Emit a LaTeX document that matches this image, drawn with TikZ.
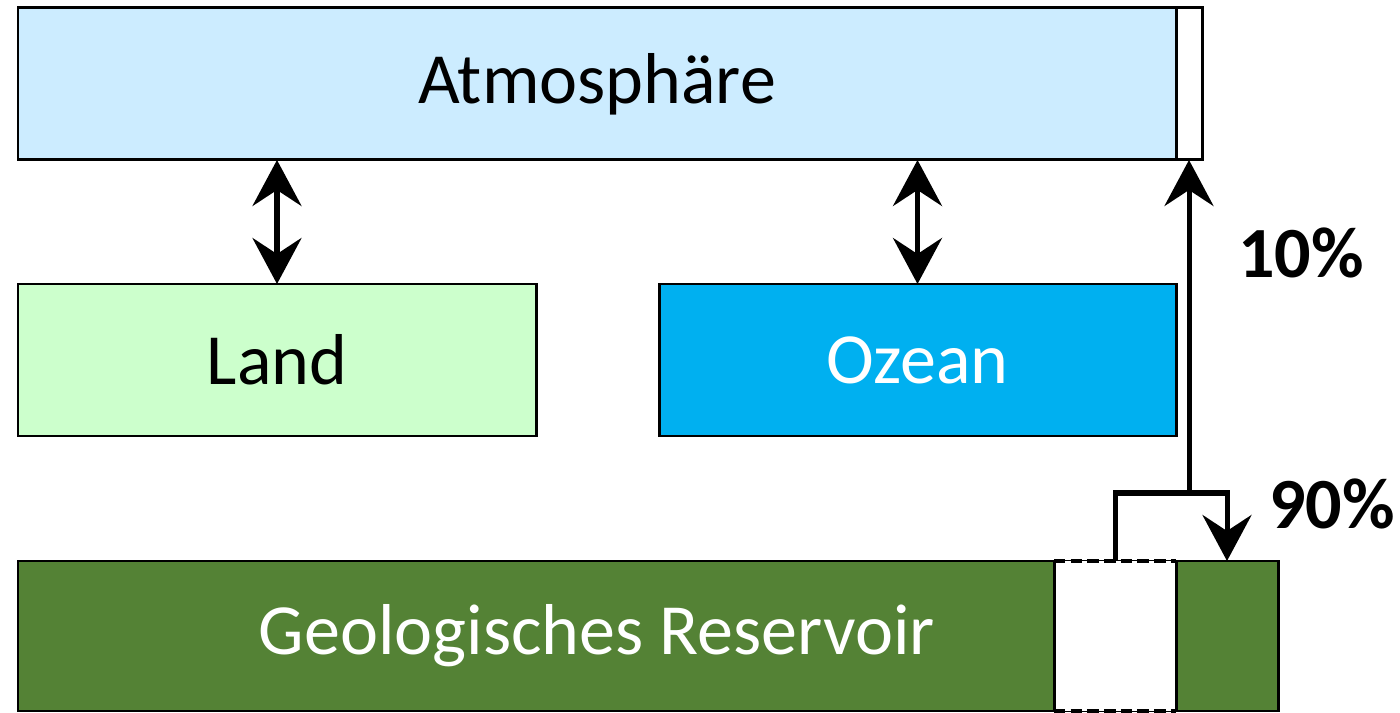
\documentclass[tikz,border=0pt]{standalone}
\usepackage{fontspec}
\setmainfont{Carlito}
\usetikzlibrary{arrows.meta,positioning,calc}

\definecolor{atmoblue}{HTML}{CCECFF}
\definecolor{landgreen}{HTML}{CCFFCC}
\definecolor{oceanblue}{HTML}{00B0F0}
\definecolor{geogreen}{HTML}{548235}

\begin{document}
\begin{tikzpicture}[
  box/.style={draw, line width=1.7pt, inner sep=0pt, outer sep=0pt, minimum height=3.04cm, font=\fontsize{41}{49}\selectfont},
  flow/.style={line width=2.85pt, -{Stealth[length=0.92cm,width=0.98cm,inset=0.32cm]}},
  both/.style={line width=2.85pt, {Stealth[length=0.92cm,width=0.98cm,inset=0.32cm]}-{Stealth[length=0.92cm,width=0.98cm,inset=0.32cm]}},
  cut/.style={draw=black, line width=2pt, dash pattern=on 6.5pt off 3pt},
  pct/.style={font=\fontsize{41}{49}\selectfont\bfseries}
]
\useasboundingbox (0,0) rectangle (28,14.26);

\node[box, fill=atmoblue, minimum width=23.16cm] (atmo) at (11.94,12.58) {Atmosphäre};
\node[box, fill=white, minimum width=0.52cm, anchor=west] (rest) at (atmo.east) {};

\node[box, fill=landgreen, minimum width=10.36cm] (land) at (5.54,7.06) {Land};
\node[box, fill=oceanblue, text=white, minimum width=10.34cm] (ozean) at (18.35,7.06) {Ozean};

% reservoir with the removed part
\node[box, fill=geogreen, text=white, minimum width=23.16cm, minimum height=3.0cm] (geo) at (11.94,1.54) {Geologisches Reservoir};
\node[box, draw=none, fill=white, minimum width=2.44cm, minimum height=3.0cm] (gap) at (22.30,1.54) {};
\draw[cut] (gap.north west) -- (gap.north east);
\draw[cut] (gap.south west) -- (gap.south east);
\draw[line width=1.7pt] (gap.north west) -- (gap.south west);
\node[box, fill=geogreen, minimum width=2.04cm, minimum height=3.0cm, anchor=west] (store) at (geo.east) {};

\draw[both] (land.north) -- (land.north |- atmo.south);
\draw[both] (ozean.north) -- (ozean.north |- atmo.south);

\coordinate (split) at (rest.south |- 0,4.40);
\draw[flow] (split) -- (rest.south);
\draw[flow] (gap.north) |- (split) -| (store.north);

\node[pct] (tenpct) at (26.02,9.20) {10\%};
\node[pct] (ninetypct) at (26.64,4.19) {90\%};

\end{tikzpicture}
\end{document}
